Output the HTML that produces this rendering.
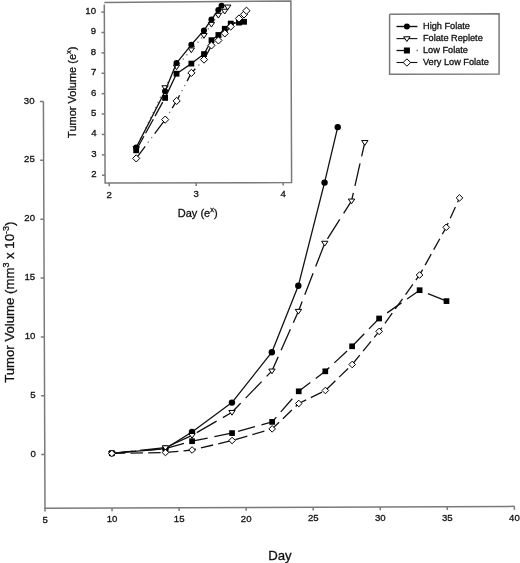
<!DOCTYPE html>
<html><head><meta charset="utf-8"><style>
html,body{margin:0;padding:0;background:#fff;}
body{width:520px;height:563px;overflow:hidden;}
svg{display:block;filter:grayscale(1);}
text{font-family:"Liberation Sans",sans-serif;fill:#111;stroke:#111;stroke-width:0.3px;}
</style></head><body>
<svg width="520" height="563" viewBox="0 0 520 563">
<rect width="520" height="563" fill="#fff"/>
<polyline points="43.41,101.60 45.00,508.20 514.40,506.37" fill="none" stroke="#7a7a7a" stroke-width="1.5"/>
<line x1="44.79" y1="454.60" x2="41.29" y2="454.61" stroke="#7a7a7a" stroke-width="1.5"/>
<text x="35.90" y="456.73" font-size="9.6" text-anchor="end">0</text>
<line x1="44.56" y1="395.75" x2="41.06" y2="395.76" stroke="#7a7a7a" stroke-width="1.5"/>
<text x="35.67" y="397.88" font-size="9.6" text-anchor="end">5</text>
<line x1="44.33" y1="336.90" x2="40.83" y2="336.91" stroke="#7a7a7a" stroke-width="1.5"/>
<text x="35.44" y="339.03" font-size="9.6" text-anchor="end">10</text>
<line x1="44.10" y1="278.05" x2="40.60" y2="278.06" stroke="#7a7a7a" stroke-width="1.5"/>
<text x="35.21" y="280.18" font-size="9.6" text-anchor="end">15</text>
<line x1="43.87" y1="219.20" x2="40.37" y2="219.21" stroke="#7a7a7a" stroke-width="1.5"/>
<text x="34.98" y="221.33" font-size="9.6" text-anchor="end">20</text>
<line x1="43.64" y1="160.35" x2="40.14" y2="160.36" stroke="#7a7a7a" stroke-width="1.5"/>
<text x="34.75" y="162.48" font-size="9.6" text-anchor="end">25</text>
<line x1="43.41" y1="101.50" x2="39.91" y2="101.51" stroke="#7a7a7a" stroke-width="1.5"/>
<text x="34.52" y="103.63" font-size="9.6" text-anchor="end">30</text>
<line x1="45.00" y1="508.20" x2="45.01" y2="511.60" stroke="#7a7a7a" stroke-width="1.5"/>
<text x="45.06" y="522.50" font-size="9.6" text-anchor="middle">5</text>
<line x1="112.05" y1="507.94" x2="112.06" y2="511.34" stroke="#7a7a7a" stroke-width="1.5"/>
<text x="112.11" y="522.24" font-size="9.6" text-anchor="middle">10</text>
<line x1="179.10" y1="507.68" x2="179.11" y2="511.08" stroke="#7a7a7a" stroke-width="1.5"/>
<text x="179.16" y="521.98" font-size="9.6" text-anchor="middle">15</text>
<line x1="246.15" y1="507.42" x2="246.16" y2="510.82" stroke="#7a7a7a" stroke-width="1.5"/>
<text x="246.21" y="521.72" font-size="9.6" text-anchor="middle">20</text>
<line x1="313.20" y1="507.15" x2="313.21" y2="510.55" stroke="#7a7a7a" stroke-width="1.5"/>
<text x="313.26" y="521.45" font-size="9.6" text-anchor="middle">25</text>
<line x1="380.25" y1="506.89" x2="380.26" y2="510.29" stroke="#7a7a7a" stroke-width="1.5"/>
<text x="380.31" y="521.19" font-size="9.6" text-anchor="middle">30</text>
<line x1="447.30" y1="506.63" x2="447.31" y2="510.03" stroke="#7a7a7a" stroke-width="1.5"/>
<text x="447.36" y="520.93" font-size="9.6" text-anchor="middle">35</text>
<line x1="514.35" y1="506.37" x2="514.36" y2="509.77" stroke="#7a7a7a" stroke-width="1.5"/>
<text x="514.41" y="520.67" font-size="9.6" text-anchor="middle">40</text>
<text x="280" y="559.8" font-size="13.2" text-anchor="middle">Day</text>
<text transform="translate(14.2,302.2) rotate(-90)" font-size="13.2" text-anchor="middle">Tumor Volume (mm<tspan font-size="9" dy="-5">3</tspan><tspan dy="5"> x 10</tspan><tspan font-size="9" dy="-5">-3</tspan><tspan dy="5">)</tspan></text>
<polyline points="111.84,453.30 165.46,448.60 192.01,432.00 231.93,402.60 271.86,352.20 298.32,285.80 324.54,182.60 337.73,127.10" fill="none" stroke="#111" stroke-width="1.3" stroke-linejoin="round"/><circle cx="111.84" cy="453.30" r="3.2" fill="#000" stroke="none"/><circle cx="165.46" cy="448.60" r="3.2" fill="#000" stroke="none"/><circle cx="192.01" cy="432.00" r="3.2" fill="#000" stroke="none"/><circle cx="231.93" cy="402.60" r="3.2" fill="#000" stroke="none"/><circle cx="271.86" cy="352.20" r="3.2" fill="#000" stroke="none"/><circle cx="298.32" cy="285.80" r="3.2" fill="#000" stroke="none"/><circle cx="324.54" cy="182.60" r="3.2" fill="#000" stroke="none"/><circle cx="337.73" cy="127.10" r="3.2" fill="#000" stroke="none"/>
<polyline points="111.84,453.30 165.46,448.60 192.05,441.20 232.05,433.10 272.13,421.90 298.73,391.30 325.28,371.30 352.10,346.30 379.11,318.50 419.63,290.20 446.49,301.10" fill="none" stroke="#111" stroke-width="1.3" stroke-dasharray="17.5 6.8" stroke-dashoffset="17.33" stroke-linejoin="round"/><rect x="108.99" y="450.45" width="5.7" height="5.7" fill="#000"/><rect x="162.61" y="445.75" width="5.7" height="5.7" fill="#000"/><rect x="189.20" y="438.35" width="5.7" height="5.7" fill="#000"/><rect x="229.20" y="430.25" width="5.7" height="5.7" fill="#000"/><rect x="269.28" y="419.05" width="5.7" height="5.7" fill="#000"/><rect x="295.88" y="388.45" width="5.7" height="5.7" fill="#000"/><rect x="322.43" y="368.45" width="5.7" height="5.7" fill="#000"/><rect x="349.25" y="343.45" width="5.7" height="5.7" fill="#000"/><rect x="376.26" y="315.65" width="5.7" height="5.7" fill="#000"/><rect x="416.78" y="287.35" width="5.7" height="5.7" fill="#000"/><rect x="443.64" y="298.25" width="5.7" height="5.7" fill="#000"/>
<polyline points="111.84,453.30 165.45,447.60 192.03,435.40 231.97,412.30 271.94,370.90 298.42,311.20 324.78,243.10 351.53,200.90 364.81,142.40" fill="none" stroke="#111" stroke-width="1.3" stroke-dasharray="23 7.2" stroke-dashoffset="2.02" stroke-linejoin="round"/><polygon points="108.64,451.45 115.04,451.45 111.84,456.19" fill="#fff" stroke="#000" stroke-width="1.0" stroke-linejoin="miter"/><polygon points="162.25,445.75 168.65,445.75 165.45,450.49" fill="#fff" stroke="#000" stroke-width="1.0" stroke-linejoin="miter"/><polygon points="188.83,433.55 195.23,433.55 192.03,438.29" fill="#fff" stroke="#000" stroke-width="1.0" stroke-linejoin="miter"/><polygon points="228.77,410.45 235.17,410.45 231.97,415.19" fill="#fff" stroke="#000" stroke-width="1.0" stroke-linejoin="miter"/><polygon points="268.74,369.05 275.14,369.05 271.94,373.79" fill="#fff" stroke="#000" stroke-width="1.0" stroke-linejoin="miter"/><polygon points="295.22,309.35 301.62,309.35 298.42,314.09" fill="#fff" stroke="#000" stroke-width="1.0" stroke-linejoin="miter"/><polygon points="321.58,241.25 327.98,241.25 324.78,245.99" fill="#fff" stroke="#000" stroke-width="1.0" stroke-linejoin="miter"/><polygon points="348.33,199.05 354.73,199.05 351.53,203.79" fill="#fff" stroke="#000" stroke-width="1.0" stroke-linejoin="miter"/><polygon points="361.61,140.55 368.01,140.55 364.81,145.29" fill="#fff" stroke="#000" stroke-width="1.0" stroke-linejoin="miter"/>
<polyline points="111.84,453.40 165.47,452.50 192.08,450.00 232.08,440.50 272.16,428.90 298.78,403.50 325.35,390.50 352.17,364.50 379.16,331.40 419.57,275.00 446.21,227.30 459.50,197.90" fill="none" stroke="#111" stroke-width="1.3" stroke-dasharray="12.5 5.2" stroke-dashoffset="16.72" stroke-linejoin="round"/><polygon points="111.84,450.10 115.14,453.40 111.84,456.70 108.54,453.40" fill="#fff" stroke="#000" stroke-width="1.0"/><polygon points="165.47,449.20 168.77,452.50 165.47,455.80 162.17,452.50" fill="#fff" stroke="#000" stroke-width="1.0"/><polygon points="192.08,446.70 195.38,450.00 192.08,453.30 188.78,450.00" fill="#fff" stroke="#000" stroke-width="1.0"/><polygon points="232.08,437.20 235.38,440.50 232.08,443.80 228.78,440.50" fill="#fff" stroke="#000" stroke-width="1.0"/><polygon points="272.16,425.60 275.46,428.90 272.16,432.20 268.86,428.90" fill="#fff" stroke="#000" stroke-width="1.0"/><polygon points="298.78,400.20 302.08,403.50 298.78,406.80 295.48,403.50" fill="#fff" stroke="#000" stroke-width="1.0"/><polygon points="325.35,387.20 328.65,390.50 325.35,393.80 322.05,390.50" fill="#fff" stroke="#000" stroke-width="1.0"/><polygon points="352.17,361.20 355.47,364.50 352.17,367.80 348.87,364.50" fill="#fff" stroke="#000" stroke-width="1.0"/><polygon points="379.16,328.10 382.46,331.40 379.16,334.70 375.86,331.40" fill="#fff" stroke="#000" stroke-width="1.0"/><polygon points="419.57,271.70 422.87,275.00 419.57,278.30 416.27,275.00" fill="#fff" stroke="#000" stroke-width="1.0"/><polygon points="446.21,224.00 449.51,227.30 446.21,230.60 442.91,227.30" fill="#fff" stroke="#000" stroke-width="1.0"/><polygon points="459.50,194.60 462.80,197.90 459.50,201.20 456.20,197.90" fill="#fff" stroke="#000" stroke-width="1.0"/>
<polyline points="104.3,4.6 105.1,183.0 291.6,182.6 290.9,1.0 104.3,2.6" fill="none" stroke="#7a7a7a" stroke-width="1.5"/>
<line x1="104.97" y1="175.22" x2="101.97" y2="175.22" stroke="#7a7a7a" stroke-width="1.5"/>
<text x="96.67" y="177.12" font-size="9.6" text-anchor="end">2</text>
<line x1="104.89" y1="154.83" x2="101.89" y2="154.83" stroke="#7a7a7a" stroke-width="1.5"/>
<text x="96.59" y="156.73" font-size="9.6" text-anchor="end">3</text>
<line x1="104.81" y1="134.44" x2="101.81" y2="134.44" stroke="#7a7a7a" stroke-width="1.5"/>
<text x="96.51" y="136.34" font-size="9.6" text-anchor="end">4</text>
<line x1="104.73" y1="114.05" x2="101.73" y2="114.05" stroke="#7a7a7a" stroke-width="1.5"/>
<text x="96.43" y="115.95" font-size="9.6" text-anchor="end">5</text>
<line x1="104.65" y1="93.66" x2="101.65" y2="93.66" stroke="#7a7a7a" stroke-width="1.5"/>
<text x="96.35" y="95.56" font-size="9.6" text-anchor="end">6</text>
<line x1="104.57" y1="73.27" x2="101.57" y2="73.27" stroke="#7a7a7a" stroke-width="1.5"/>
<text x="96.27" y="75.17" font-size="9.6" text-anchor="end">7</text>
<line x1="104.49" y1="52.88" x2="101.49" y2="52.88" stroke="#7a7a7a" stroke-width="1.5"/>
<text x="96.19" y="54.78" font-size="9.6" text-anchor="end">8</text>
<line x1="104.41" y1="32.49" x2="101.41" y2="32.49" stroke="#7a7a7a" stroke-width="1.5"/>
<text x="96.11" y="34.39" font-size="9.6" text-anchor="end">9</text>
<line x1="104.33" y1="12.10" x2="101.33" y2="12.10" stroke="#7a7a7a" stroke-width="1.5"/>
<text x="96.03" y="14.00" font-size="9.6" text-anchor="end">10</text>
<line x1="109.20" y1="182.98" x2="109.20" y2="186.28" stroke="#7a7a7a" stroke-width="1.5"/>
<text x="109.20" y="197.78" font-size="9.6" text-anchor="middle">2</text>
<line x1="196.20" y1="182.64" x2="196.20" y2="185.94" stroke="#7a7a7a" stroke-width="1.5"/>
<text x="196.20" y="197.44" font-size="9.6" text-anchor="middle">3</text>
<line x1="283.20" y1="182.31" x2="283.20" y2="185.61" stroke="#7a7a7a" stroke-width="1.5"/>
<text x="283.20" y="197.11" font-size="9.6" text-anchor="middle">4</text>
<text x="197.7" y="216.9" font-size="11" text-anchor="middle">Day (e<tspan font-size="7.5" dy="-4.5">x</tspan><tspan dy="4.5">)</tspan></text>
<text transform="translate(76.2,92.2) rotate(-90)" font-size="11" text-anchor="middle">Tumor Volume (e<tspan font-size="7.5" dy="-5.5">x</tspan><tspan dy="5.5">)</tspan></text>
<polyline points="136.18,148.50 165.05,87.60 176.52,66.80 191.32,49.80 203.95,35.40 211.43,24.20 218.32,15.20 224.71,11.10 227.73,6.90" fill="none" stroke="#666" stroke-width="1.3" stroke-dasharray="1.2 4.4" stroke-linecap="butt" stroke-linejoin="round"/><polygon points="132.98,146.65 139.38,146.65 136.18,151.39" fill="#fff" stroke="#000" stroke-width="1.0" stroke-linejoin="miter"/><polygon points="161.85,85.75 168.25,85.75 165.05,90.49" fill="#fff" stroke="#000" stroke-width="1.0" stroke-linejoin="miter"/><polygon points="173.32,64.95 179.72,64.95 176.52,69.69" fill="#fff" stroke="#000" stroke-width="1.0" stroke-linejoin="miter"/><polygon points="188.12,47.95 194.52,47.95 191.32,52.69" fill="#fff" stroke="#000" stroke-width="1.0" stroke-linejoin="miter"/><polygon points="200.75,33.55 207.15,33.55 203.95,38.29" fill="#fff" stroke="#000" stroke-width="1.0" stroke-linejoin="miter"/><polygon points="208.23,22.35 214.63,22.35 211.43,27.09" fill="#fff" stroke="#000" stroke-width="1.0" stroke-linejoin="miter"/><polygon points="215.12,13.35 221.52,13.35 218.32,18.09" fill="#fff" stroke="#000" stroke-width="1.0" stroke-linejoin="miter"/><polygon points="221.51,9.25 227.91,9.25 224.71,13.99" fill="#fff" stroke="#000" stroke-width="1.0" stroke-linejoin="miter"/><polygon points="224.53,5.05 230.93,5.05 227.73,9.79" fill="#fff" stroke="#000" stroke-width="1.0" stroke-linejoin="miter"/>
<polyline points="136.18,147.60 165.07,91.20 176.51,63.10 191.30,44.80 203.93,30.40 211.41,19.60 218.30,10.00 221.54,5.80" fill="none" stroke="#111" stroke-width="1.3" stroke-linecap="butt" stroke-linejoin="round"/><circle cx="136.18" cy="147.60" r="3.0" fill="#000" stroke="none"/><circle cx="165.07" cy="91.20" r="3.0" fill="#000" stroke="none"/><circle cx="176.51" cy="63.10" r="3.0" fill="#000" stroke="none"/><circle cx="191.30" cy="44.80" r="3.0" fill="#000" stroke="none"/><circle cx="203.93" cy="30.40" r="3.0" fill="#000" stroke="none"/><circle cx="211.41" cy="19.60" r="3.0" fill="#000" stroke="none"/><circle cx="218.30" cy="10.00" r="3.0" fill="#000" stroke="none"/><circle cx="221.54" cy="5.80" r="3.0" fill="#000" stroke="none"/>
<polyline points="136.19,150.30 165.09,97.90" fill="none" stroke="#111" stroke-width="1.3" stroke-dasharray="16 3.5"/>
<polyline points="165.09,97.90 176.55,73.70 191.37,63.60 204.02,54.10 211.49,40.20 218.39,35.00 224.78,28.80 230.73,23.60 238.97,22.60 244.05,21.80" fill="none" stroke="#111" stroke-width="1.3" stroke-linecap="butt" stroke-linejoin="round"/><rect x="162.19" y="95.00" width="5.8" height="5.8" fill="#000"/><rect x="173.65" y="70.80" width="5.8" height="5.8" fill="#000"/><rect x="188.47" y="60.70" width="5.8" height="5.8" fill="#000"/><rect x="201.12" y="51.20" width="5.8" height="5.8" fill="#000"/><rect x="208.59" y="37.30" width="5.8" height="5.8" fill="#000"/><rect x="215.49" y="32.10" width="5.8" height="5.8" fill="#000"/><rect x="221.88" y="25.90" width="5.8" height="5.8" fill="#000"/><rect x="227.83" y="20.70" width="5.8" height="5.8" fill="#000"/><rect x="236.07" y="19.70" width="5.8" height="5.8" fill="#000"/><rect x="241.15" y="18.90" width="5.8" height="5.8" fill="#000"/>
<rect x="133.29" y="147.40" width="5.8" height="5.8" fill="#000"/>
<polyline points="136.22,158.40 165.18,119.60 176.65,100.90 191.41,72.90 204.04,59.60 211.51,45.40 218.41,40.40 224.80,33.40 230.74,26.50 238.95,18.50 244.03,14.40 246.45,10.70" fill="none" stroke="#777" stroke-width="1.3" stroke-dasharray="0 19.5 1.3 4.5 1.3 4.3" stroke-linecap="butt" stroke-linejoin="round"/>
<polyline points="136.22,158.40 165.18,119.60 176.65,100.90 191.41,72.90 204.04,59.60 211.51,45.40 218.41,40.40 224.80,33.40 230.74,26.50 238.95,18.50 244.03,14.40 246.45,10.70" fill="none" stroke="#111" stroke-width="1.3" stroke-dasharray="15 15.9" stroke-linecap="butt" stroke-linejoin="round"/><polygon points="136.22,154.80 139.82,158.40 136.22,162.00 132.62,158.40" fill="#fff" stroke="#000" stroke-width="1.0"/><polygon points="165.18,116.00 168.78,119.60 165.18,123.20 161.58,119.60" fill="#fff" stroke="#000" stroke-width="1.0"/><polygon points="176.65,97.30 180.25,100.90 176.65,104.50 173.05,100.90" fill="#fff" stroke="#000" stroke-width="1.0"/><polygon points="191.41,69.30 195.01,72.90 191.41,76.50 187.81,72.90" fill="#fff" stroke="#000" stroke-width="1.0"/><polygon points="204.04,56.00 207.64,59.60 204.04,63.20 200.44,59.60" fill="#fff" stroke="#000" stroke-width="1.0"/><polygon points="211.51,41.80 215.11,45.40 211.51,49.00 207.91,45.40" fill="#fff" stroke="#000" stroke-width="1.0"/><polygon points="218.41,36.80 222.01,40.40 218.41,44.00 214.81,40.40" fill="#fff" stroke="#000" stroke-width="1.0"/><polygon points="224.80,29.80 228.40,33.40 224.80,37.00 221.20,33.40" fill="#fff" stroke="#000" stroke-width="1.0"/><polygon points="230.74,22.90 234.34,26.50 230.74,30.10 227.14,26.50" fill="#fff" stroke="#000" stroke-width="1.0"/><polygon points="238.95,14.90 242.55,18.50 238.95,22.10 235.35,18.50" fill="#fff" stroke="#000" stroke-width="1.0"/><polygon points="244.03,10.80 247.63,14.40 244.03,18.00 240.43,14.40" fill="#fff" stroke="#000" stroke-width="1.0"/><polygon points="246.45,7.10 250.05,10.70 246.45,14.30 242.85,10.70" fill="#fff" stroke="#000" stroke-width="1.0"/>
<polyline points="389.6,14.2 499.1,13.8 499.1,74.0 389.6,74.2 389.6,14.2" fill="none" stroke="#7a7a7a" stroke-width="1.5"/>
<line x1="396.5" y1="26.5" x2="417.4" y2="26.5" stroke="#111" stroke-width="1.4"/>
<circle cx="406.90" cy="26.50" r="3.0" fill="#000" stroke="none"/>
<text x="423" y="28.9" font-size="9.2">High Folate</text>
<line x1="396.5" y1="38.6" x2="417.4" y2="38.6" stroke="#111" stroke-width="1.1"/>
<polygon points="403.70,36.75 410.10,36.75 406.90,41.49" fill="#fff" stroke="#000" stroke-width="1.0" stroke-linejoin="miter"/>
<text x="423" y="41.0" font-size="9.2">Folate Replete</text>
<line x1="396.5" y1="50.5" x2="410" y2="50.5" stroke="#111" stroke-width="1.3"/>
<line x1="416.6" y1="50.5" x2="417.8" y2="50.5" stroke="#555" stroke-width="1.3"/>
<rect x="403.90" y="47.50" width="6" height="6" fill="#000"/>
<text x="423" y="52.9" font-size="9.2">Low Folate</text>
<line x1="396.5" y1="62.5" x2="417.4" y2="62.5" stroke="#111" stroke-width="1.1"/>
<polygon points="406.90,58.80 410.60,62.50 406.90,66.20 403.20,62.50" fill="#fff" stroke="#000" stroke-width="1.0"/>
<text x="423" y="64.9" font-size="9.2">Very Low Folate</text>
</svg></body></html>
